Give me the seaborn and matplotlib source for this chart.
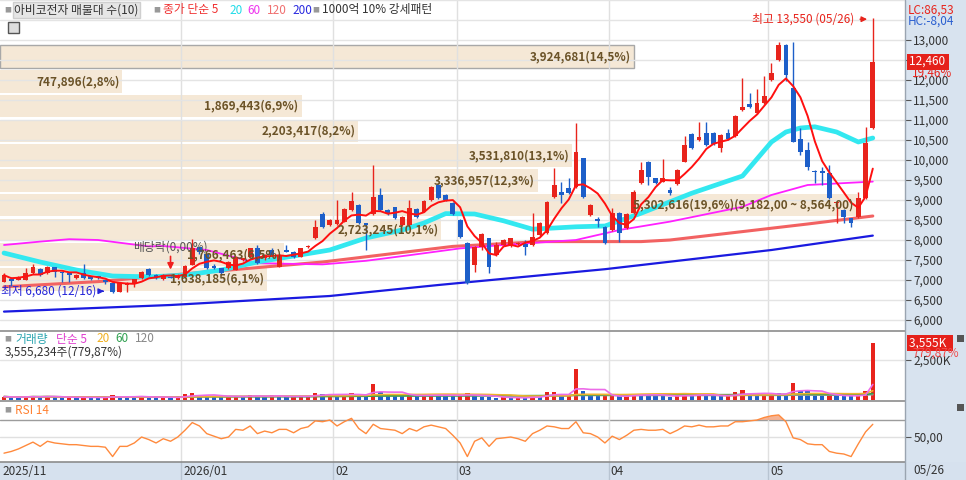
import numpy as np
import pandas as pd
import matplotlib
matplotlib.use("Agg")
import matplotlib.pyplot as plt
import matplotlib.transforms as mtransforms
from matplotlib.patches import Rectangle
import seaborn as sns

# ---- 일봉 데이터 (화면에서 읽은 값) ----
opens = [6950, 7020, 7000, 7000, 7170, 7270, 7170, 7320, 7190, 7180,
         7040, 7170, 7100, 7100, 7000, 6930, 6710, 6870, 6920, 7040,
         7270, 7130, 7020, 7080, 7040, 7080, 7380, 7820, 7660, 7350,
         7290, 7290, 7250, 7500, 7580, 7790, 7540, 7750, 7330, 7750,
         7710, 7580, 7820, 8040, 8650, 8380, 8400, 8460, 8750, 8870,
         8420, 8650, 9130, 8750, 8820, 8380, 8380, 8770, 8710, 9000,
         9380, 9130, 8920, 8500, 7920, 7380, 7830, 8040, 7630, 7880,
         7850, 7900, 7900, 7880, 8130, 8170, 9080, 9210, 9290, 9330,
         10040, 8620, 8520, 8330, 8250, 8670, 8290, 8670, 9420, 9960,
         9540, 9460, 9250, 9400, 9960, 10650, 10500, 10680, 10670, 10290,
         10680, 10600, 11250, 11400, 11170, 11430, 12000, 12500, 12880, 11790,
         10520, 10250, 9720, 9720, 9670, 8930, 8750, 8540, 8580, 9040,
         10790]
highs = [7170, 7080, 7100, 7290, 7400, 7290, 7340, 7330, 7200, 7190,
         7140, 7400, 7110, 7110, 7010, 6960, 6940, 6950, 7030, 7230,
         7290, 7140, 7150, 7100, 7140, 7370, 8020, 7830, 7680, 7400,
         7300, 7480, 7600, 7560, 7810, 7870, 7640, 7800, 7640, 7880,
         7720, 7810, 7870, 8500, 8690, 8520, 9000, 8790, 9210, 8900,
         8430, 9880, 9290, 8770, 8830, 8600, 9000, 8800, 9000, 9340,
         9400, 9150, 8940, 8520, 7940, 7850, 8170, 8060, 7950, 8020,
         8060, 7950, 8000, 8670, 8440, 8980, 9790, 9460, 9540, 10920,
         10060, 8900, 8580, 8340, 8790, 8690, 8670, 9250, 9960, 9980,
         9560, 10020, 9330, 9770, 10600, 10670, 10960, 10960, 10690, 10650,
         10770, 11120, 12040, 11680, 11770, 12100, 12420, 12960, 12900, 12960,
         10790, 10460, 9750, 9830, 9880, 8980, 8770, 8560, 9210, 10830,
         13550]
lows = [6940, 6840, 6990, 6990, 7160, 7100, 7150, 7080, 6960, 6960,
        7030, 7030, 7000, 7030, 6900, 6680, 6700, 6710, 6830, 7030,
        7110, 7020, 7010, 7040, 7030, 7070, 7370, 7650, 7280, 7270,
        7150, 7280, 7240, 7480, 7570, 7400, 7500, 7610, 7320, 7690,
        7560, 7570, 7800, 8020, 8300, 8360, 8380, 8440, 8730, 8400,
        7750, 8620, 8720, 8620, 8520, 8360, 8360, 8560, 8690, 8980,
        9020, 8980, 8630, 8060, 6910, 7200, 7750, 7170, 7610, 7860,
        7830, 7880, 7620, 7860, 8110, 8150, 9060, 8920, 9150, 9310,
        9050, 8600, 8330, 7900, 8230, 7960, 8270, 8650, 9400, 9370,
        9400, 9440, 9120, 9380, 9940, 10270, 10480, 10360, 10380, 10200,
        10500, 10580, 11230, 11300, 11150, 11410, 11980, 12480, 11980, 10440,
        10130, 9750, 9420, 9380, 9020, 8420, 8420, 8330, 8560, 9020,
        10780]
closes = [7120, 6970, 7080, 7180, 7330, 7130, 7320, 7210, 7170, 7130,
          7120, 7040, 7020, 7040, 6950, 6710, 6920, 6930, 7020, 7210,
          7130, 7040, 7130, 7060, 7120, 7350, 7790, 7710, 7300, 7300,
          7170, 7460, 7580, 7540, 7790, 7420, 7620, 7630, 7620, 7710,
          7580, 7790, 7850, 8330, 8320, 8500, 8500, 8770, 8980, 8420,
          8380, 9070, 8750, 8670, 8540, 8580, 8790, 8580, 8980, 9320,
          9040, 9000, 8650, 8080, 6930, 7830, 8150, 7330, 7880, 8000,
          8040, 7930, 7820, 8080, 8420, 8960, 9380, 9130, 9170, 10210,
          9070, 8880, 8480, 7920, 8670, 8170, 8650, 9210, 9750, 9580,
          9420, 9540, 9170, 9750, 10380, 10290, 10580, 10380, 10400, 10630,
          10520, 11100, 11320, 11320, 11420, 11600, 12170, 12880, 12120, 10460,
          10210, 9830, 9700, 9670, 9040, 8960, 8570, 8420, 9040, 10430,
          12460]
# 거래량 (천주)
volumes = [210, 180, 150, 230, 260, 190, 240, 170, 150, 160,
           140, 220, 160, 130, 150, 300, 220, 180, 160, 250,
           190, 150, 170, 140, 160, 380, 420, 300, 260, 220,
           180, 240, 260, 200, 320, 240, 180, 300, 260, 180,
           200, 230, 280, 450, 350, 380, 260, 300, 460, 330,
           250, 1000, 520, 380, 300, 260, 300, 240, 330, 350,
           300, 280, 260, 300, 420, 280, 200, 160, 140, 160,
           130, 150, 120, 280, 220, 500, 510, 230, 260, 1940,
           560, 300, 220, 240, 260, 220, 250, 400, 380, 320,
           260, 230, 200, 240, 420, 300, 380, 260, 240, 220,
           260, 480, 620, 340, 300, 330, 460, 420, 360, 1060,
           580, 560, 300, 280, 320, 260, 240, 220, 270, 560,
           3555]
rsi14 = [31, 33, 36, 40, 44, 39, 45, 43, 42, 41,
         41, 40, 39, 39, 38, 27, 39, 39, 43, 50,
         47, 43, 48, 45, 50, 58, 67, 63, 54, 51,
         48, 50, 59, 58, 63, 54, 57, 55, 59, 59,
         55, 60, 62, 69, 68, 70, 63, 68, 72, 60,
         54, 65, 60, 59, 58, 54, 60, 57, 62, 64,
         62, 60, 52, 43, 27, 45, 49, 39, 48, 49,
         50, 48, 45, 54, 58, 63, 62, 60, 60, 68,
         55, 54, 50, 43, 51, 47, 52, 58, 59, 58,
         58, 59, 54, 58, 63, 62, 64, 62, 62, 63,
         63, 68, 68, 69, 70, 73, 75, 76, 68, 49,
         47, 42, 41, 41, 33, 31, 30, 27, 42, 56,
         65]

# 이동평균선 (화면에서 읽은 값)
ma20_days = [0, 5, 10, 15, 20, 25, 30, 35, 40, 45, 50, 55, 58, 61, 65, 69, 73, 79,
             83, 88, 95, 102, 106, 108, 110, 112, 115, 118, 120]
ma20_vals = [7675, 7450, 7250, 7100, 7080, 7120, 7250, 7450, 7600, 7750, 8050, 8250, 8425,
             8660, 8650, 8480, 8270, 8330, 8350, 8670, 9170, 9600, 10450, 10700, 10800,
             10830, 10700, 10450, 10550]
ma60_days = [0, 5, 9, 13, 20, 22, 28, 35, 44, 50, 56, 63, 69, 79, 85, 92, 102, 106, 111, 120]
ma60_vals = [7875, 7960, 8020, 8000, 7840, 7850, 7750, 7420, 7390, 7480, 7620, 7790, 7875,
             8000, 8250, 8460, 8830, 9125, 9375, 9460]
ma120_days = [0, 13, 26, 44, 62, 74, 88, 92, 102, 111, 120]
ma120_vals = [6830, 6960, 7170, 7450, 7840, 7960, 7960, 8000, 8210, 8400, 8600]
ma200_days = [0, 23, 45, 60, 83, 106, 120]
ma200_vals = [6210, 6375, 6600, 6875, 7270, 7750, 8110]

month_labels = ["2025/11", "2026/01", "02", "03", "04", "05"]
month_start = [0, 25, 46, 63, 84, 106]

# 매물대 (아래 구간부터)
vp_labels = ["1,638,185(6,1%)", "1,766,463(6,5%)", "2,723,245(10,1%)",
             "5,302,616(19,6%)(9,182,00 ~ 8,564,00)", "3,336,957(12,3%)",
             "3,531,810(13,1%)", "2,203,417(8,2%)", "1,869,443(6,9%)",
             "747,896(2,8%)", "3,924,681(14,5%)"]
vp_pct = [6.1, 6.5, 10.1, 19.6, 12.3, 13.1, 8.2, 6.9, 2.8, 14.5]
vp_low = 6710
vp_step = 618

price_ticks = list(range(6000, 13001, 500))

sns.set_style("white")
plt.rcParams['font.family'] = ['Noto Sans CJK KR', 'DejaVu Sans']
plt.rcParams['axes.unicode_minus'] = False

W, H = 966, 480
PX0, STEP = 4, 7.24
RED, BLUE = '#e8241c', '#1d5fc9'

fig = plt.figure(figsize=(W / 100, H / 100), dpi=100)
fig.patch.set_facecolor('white')


def box(top, bottom, left=0, right=905):
    return [left / W, 1 - bottom / H, (right - left) / W, (bottom - top) / H]


def ftext(x, y, s, **kw):
    kw.setdefault('va', 'center')
    kw.setdefault('ha', 'left')
    kw.setdefault('fontsize', 8.5)
    return fig.text(x / W, 1 - y / H, s, **kw)


def frect(x0, y0, x1, y1, **kw):
    r = Rectangle((x0 / W, 1 - y1 / H), (x1 - x0) / W, (y1 - y0) / H,
                  transform=fig.transFigure, **kw)
    fig.patches.append(r)
    return r


# 배경 띠 (오른쪽 축, 아래 날짜)
frect(905, 0, 966, 480, facecolor='#d8e3ef', edgecolor='none', zorder=-2)
frect(0, 462, 966, 480, facecolor='#d6e1ee', edgecolor='none', zorder=-2)

ax = fig.add_axes(box(0, 330))
axv = fig.add_axes(box(331, 401))
axr = fig.add_axes(box(401, 462))

xlim = (-PX0 / STEP, (905 - PX0) / STEP)
idx = np.arange(len(closes))
o, h, l, c = (np.array(a, dtype=float) for a in (opens, highs, lows, closes))

for a in (ax, axv, axr):
    a.set_xlim(*xlim)
    a.set_facecolor('white')
    for s in a.spines.values():
        s.set_visible(False)
    a.tick_params(axis='x', bottom=False, labelbottom=False)
    a.yaxis.tick_right()
    a.tick_params(axis='y', length=4, width=0.8, color='#555555', pad=2,
                  labelsize=8.5, labelcolor='#333333', direction='out')
    for m in month_start[1:]:
        a.axvline(m - 0.5, color='#e0e0e0', lw=1, zorder=1.5)

# ---- 가격 패널 ----
ax.set_ylim(5750, 14000)
ax.set_yticks(price_ticks)
# 12,500 은 현재가 박스 뒤에 가려짐
ax.set_yticklabels(["" if p == 12500 else f"{p:,}" for p in price_ticks])
for p in range(6000, 14001, 500):
    ax.axhline(p, color='#e4e4e4', lw=1, zorder=1.5)

for k in range(10):
    lo = vp_low + k * vp_step
    w = vp_pct[k] * 43.7 / STEP
    ec = '#a8a8a8' if k == 9 else 'none'
    ax.barh(lo + vp_step / 2, w, height=vp_step - 55, left=xlim[0], color='#f5e8d6',
            edgecolor=ec, lw=1, zorder=1)
    ax.text(xlim[0] + w - 3 / STEP, lo + vp_step / 2, vp_labels[k], ha='right', va='center',
            fontsize=8.5, fontweight='bold', color='#6b5328', zorder=7)

sns.lineplot(x=ma200_days, y=ma200_vals, ax=ax, color='#1a1ae0', lw=1.6, zorder=3,
             estimator=None, sort=False, legend=False)
sns.lineplot(x=ma120_days, y=ma120_vals, ax=ax, color='#f26262', lw=2.2, zorder=3,
             estimator=None, sort=False, legend=False)
sns.lineplot(x=ma60_days, y=ma60_vals, ax=ax, color='#ff20ff', lw=1.3, zorder=3,
             estimator=None, sort=False, legend=False)
sns.lineplot(x=ma20_days, y=ma20_vals, ax=ax, color='#33e8f0', lw=3.4, zorder=3,
             estimator=None, sort=False, legend=False)

cols = np.where(c >= o, RED, BLUE)
ax.vlines(idx, l, h, colors=cols, lw=1, zorder=4)
ax.bar(idx, np.maximum(np.abs(c - o), 15), bottom=np.minimum(o, c), width=0.66,
       color=cols, lw=0, zorder=5)

ma5 = pd.Series(closes).rolling(5, min_periods=1).mean()
sns.lineplot(x=idx, y=ma5.values, ax=ax, color='#ff1010', lw=1.4, zorder=6,
             estimator=None, sort=False, legend=False)

# 최고 / 최저 / 배당락
hi_i = int(np.argmax(h))
lo_i = int(np.argmin(l))
ax.annotate("최고 13,550 (05/26)", xy=(hi_i - 0.4, h[hi_i] - 30), xytext=(hi_i - 2.6, h[hi_i] - 30),
            ha='right', va='center', fontsize=8.5, color='#e8241c',
            arrowprops=dict(arrowstyle='-|>', color='#e8241c', lw=1, mutation_scale=8), zorder=8)
ax.annotate("최저 6,680 (12/16)", xy=(lo_i - 0.8, l[lo_i] + 40), xytext=(lo_i - 2.2, l[lo_i] + 40),
            ha='right', va='center', fontsize=8.5, color='#2525d8', annotation_clip=False,
            arrowprops=dict(arrowstyle='-|>', color='#2525d8', lw=1, mutation_scale=8), zorder=8)
ax.text(17.8, 7830, "배당락(0,00%)", fontsize=8.5, color='#555555', va='center', zorder=8)
ax.annotate("", xy=(23, 7190), xytext=(23, 7660),
            arrowprops=dict(arrowstyle='-|>', color='#f02020', lw=1.2, mutation_scale=9), zorder=8)

blend = mtransforms.blended_transform_factory(ax.transAxes, ax.transData)
ax.text(1.004, closes[-1], "12,460 ", transform=blend, color='white', fontsize=8.5, va='center',
        ha='left', clip_on=False, zorder=10,
        bbox=dict(boxstyle='square,pad=0.12', facecolor='#e5211b', edgecolor='none'))
ax.text(1.008, 12180, "19,46%", transform=blend, color='#e8241c', fontsize=8.5, va='center',
        ha='left', clip_on=False, zorder=10)

# ---- 거래량 패널 ----
vol = np.array(volumes, dtype=float)
vcols = [RED if i == 0 or vol[i] >= vol[i - 1] else BLUE for i in range(len(vol))]
axv.set_ylim(-62, 4312)
axv.axhline(2500, color='#e4e4e4', lw=1, zorder=1)
axv.bar(idx, vol, width=0.6, color=vcols, lw=0, zorder=3)
for n, col in [(120, '#9a9a9a'), (60, '#2fa04a'), (20, '#f2b32a'), (5, '#ec6ce8')]:
    mv = pd.Series(volumes).rolling(n, min_periods=1).mean()
    sns.lineplot(x=idx, y=mv.values, ax=axv, color=col, lw=1.2, zorder=4,
                 estimator=None, sort=False, legend=False)
axv.set_yticks([2500])
axv.set_yticklabels(["2,500K"])
vblend = mtransforms.blended_transform_factory(axv.transAxes, axv.transData)
axv.text(1.004, volumes[-1], "3,555K  ", transform=vblend, color='white', fontsize=8.5,
         va='center', ha='left', clip_on=False, zorder=10,
         bbox=dict(boxstyle='square,pad=0.12', facecolor='#e5211b', edgecolor='none'))
axv.text(1.008, 2900, "779,87%", transform=vblend, color='#f04a4a', fontsize=8.5,
         va='center', ha='left', clip_on=False, zorder=10)

# ---- RSI 패널 ----
rsi = np.array(rsi14, dtype=float)
axr.set_ylim(20.6, 92.4)
axr.axhline(70, color='#9c9c9c', lw=1, zorder=1)
axr.axhline(50, color='#e0e0e0', lw=1, zorder=1)
axr.fill_between(idx, 70, rsi, where=rsi > 70, interpolate=True, color='#f3a07a',
                 alpha=0.8, lw=0, zorder=2)
sns.lineplot(x=idx, y=rsi, ax=axr, color='#ff8a3d', lw=1.0, zorder=3,
             estimator=None, sort=False, legend=False)
axr.set_yticks([50])
axr.set_yticklabels(["50,00"])

# 날짜 라벨
dblend = mtransforms.blended_transform_factory(axr.transData, axr.transAxes)
for lab, m in zip(month_labels, month_start):
    xpos = max(m - 0.5, xlim[0]) + 0.3
    axr.text(xpos, -0.15, lab, transform=dblend, fontsize=8.5, color='#333333',
             va='center', ha='left', clip_on=False)
    if m > 0:
        axr.axvline(m - 0.5, ymin=-0.3, ymax=0, color='#b8c4d2', lw=1, clip_on=False)
ftext(913, 471, "05/26", color='#333333')

# 패널 구분선
for yy in (330.5, 401, 462):
    fig.add_artist(plt.Line2D([0, 905 / W], [1 - yy / H] * 2, color='#8c8c8c', lw=1.2,
                              transform=fig.transFigure))
fig.add_artist(plt.Line2D([905 / W] * 2, [0, 1], color='#9aa4b0', lw=1,
                          transform=fig.transFigure))

# 범례 텍스트
ftext(4, 10, "■", fontsize=5, color='#999999')
ftext(14, 10, "아비코전자 매물대 수(10)", color='#333333',
      bbox=dict(boxstyle='square,pad=0.1', facecolor='#e6e6e6', edgecolor='#cfcfcf'))
ftext(153, 10, "■", fontsize=5, color='#999999')
ftext(163, 10, "종가 단순 5", color='#f03030')
ftext(229, 10, "20", color='#22dce8')
ftext(247, 10, "60", color='#ee33ee')
ftext(267, 10, "120", color='#f07070')
ftext(292, 10, "200", color='#2a2ae0')
ftext(312, 10, "■", fontsize=5, color='#999999')
ftext(322, 10, "1000억 10% 강세패턴", color='#333333')
frect(8, 22, 19, 33, facecolor='#dddddd', edgecolor='#555555', lw=1)

ftext(908, 10, "LC:86,53", color='#e8241c')
ftext(908, 21, "HC:-8,04", color='#2a5fd0')

ftext(4, 339, "■", fontsize=5, color='#999999')
ftext(15, 339, "거래량", color='#2aa5b0')
ftext(56, 339, "단순 5", color='#e040d0')
ftext(96, 339, "20", color='#f0b020')
ftext(115, 339, "60", color='#30a050')
ftext(135, 339, "120", color='#888888')
ftext(5, 352, "3,555,234주(779,87%)", color='#333333')

ftext(4, 410, "■", fontsize=5, color='#999999')
ftext(15, 410, "RSI 14", color='#ff8030')

frect(957, 335, 964, 342, facecolor='#555555', edgecolor='none')
frect(957, 404, 964, 411, facecolor='#555555', edgecolor='none')

fig.savefig("out.png", dpi=100)
